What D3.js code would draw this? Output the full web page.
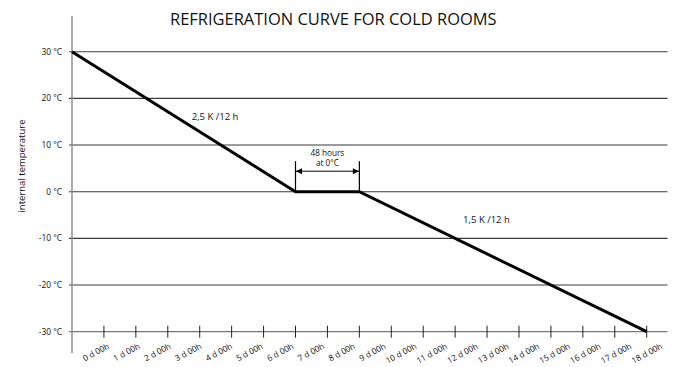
<!DOCTYPE html>
<html>
<head>
<meta charset="utf-8">
<script src="https://cdn.jsdelivr.net/npm/d3@7"></script>
<style>
  html, body { margin: 0; padding: 0; background: #fff; }
  svg { display: block; font-family: "Open Sans", "Noto Sans", sans-serif; }
</style>
</head>
<body>
<svg id="chart" width="675" height="367"></svg>
<script>
// Temperature levels shown as horizontal grid lines
const tempTicks = [30, 20, 10, 0, -10, -20, -30];
const tempLabels = ["30 °C", "20 °C", "10 °C", "0 °C", "-10 °C", "-20 °C", "-30 °C"];

// Time steps along the horizontal axis (one tick per step)
const timeSteps = [0, 1, 2, 3, 4, 5, 6, 7, 8, 9, 10, 11, 12, 13, 14, 15, 16, 17, 18];
const timeLabels = ["0 d 00h", "1 d 00h", "2 d 00h", "3 d 00h", "4 d 00h", "5 d 00h", "6 d 00h",
  "7 d 00h", "8 d 00h", "9 d 00h", "10 d 00h", "11 d 00h", "12 d 00h", "13 d 00h", "14 d 00h",
  "15 d 00h", "16 d 00h", "17 d 00h", "18 d 00h"];

// Cooling curve: cool down, hold at 0 °C, cool down again
const curveStep = [0, 7, 9, 18];
const curveTemp = [30, 0, 0, -30];

// Hold phase annotation
const holdStart = 7, holdEnd = 9, holdTemp = 0;
const holdText = ["48 hours", "at 0°C"];

// Rate labels along the two slopes
const rateLabels = ["2,5 K /12 h", "1,5 K /12 h"];
const rateStep = [3.75, 12.25];
const rateTemp = [15.3, -6.7];

const svg = d3.select("#chart");

const x = d3.scaleLinear().domain([0, 18]).range([72, 646.7]);
const y = d3.scaleLinear().domain([-30, 30]).range([331.7, 51.7]);
const labelPos = d3.scalePoint().domain(timeLabels).range([110, 663]);

// Title
const title = svg.append("text")
  .attr("x", 170).attr("y", 25)
  .attr("font-size", 16).attr("fill", "#111")
  .text("REFRIGERATION CURVE FOR COLD ROOMS");
const tw = title.node().getComputedTextLength();
title.attr("font-size", 16 * 327 / tw);

// Horizontal grid lines
svg.append("g").selectAll("line")
  .data(tempTicks.filter(t => t !== -30))
  .join("line")
  .attr("x1", 69).attr("x2", 667.5)
  .attr("y1", d => y(d)).attr("y2", d => y(d))
  .attr("stroke", "#3a3a3a").attr("stroke-width", 1.1);

// Temperature labels
svg.append("g").selectAll("text")
  .data(tempTicks)
  .join("text")
  .attr("x", 62).attr("y", d => y(d) + 3)
  .attr("text-anchor", "end")
  .attr("font-size", 8.4).attr("fill", "#111")
  .text((d, i) => tempLabels[i]);

// Y axis title
svg.append("text")
  .attr("transform", "translate(25,166) rotate(-90)")
  .attr("text-anchor", "middle")
  .attr("font-size", 9.5).attr("fill", "#111")
  .text("internal temperature");

// Bottom axis line
svg.append("line")
  .attr("x1", 69).attr("x2", 667.5)
  .attr("y1", y(-30)).attr("y2", y(-30))
  .attr("stroke", "#777").attr("stroke-width", 1.3);

// Tick marks on the time axis
svg.append("g").selectAll("line")
  .data(timeSteps.filter(d => d > 0))
  .join("line")
  .attr("x1", d => x(d)).attr("x2", d => x(d))
  .attr("y1", y(-30) - 6).attr("y2", y(-30) + 6)
  .attr("stroke", "#222").attr("stroke-width", 1);

// Left axis line
svg.append("line")
  .attr("x1", x(0)).attr("x2", x(0))
  .attr("y1", 16).attr("y2", 353)
  .attr("stroke", "#888").attr("stroke-width", 1.4);

// Time labels, slanted
svg.append("g").selectAll("text")
  .data(timeLabels)
  .join("text")
  .attr("transform", d => `translate(${labelPos(d)},348) rotate(-28)`)
  .attr("text-anchor", "end")
  .attr("font-size", 8.3).attr("fill", "#111")
  .text(d => d);

// Cooling curve
const curve = curveStep.map((s, i) => [s, curveTemp[i]]);
svg.append("path")
  .datum(curve)
  .attr("d", d3.line().x(d => x(d[0])).y(d => y(d[1])))
  .attr("fill", "none")
  .attr("stroke", "#000").attr("stroke-width", 3)
  .attr("stroke-linejoin", "miter");

// Hold phase bracket
const defs = svg.append("defs");
["start", "end"].forEach(k => {
  defs.append("marker")
    .attr("id", "arrow-" + k)
    .attr("viewBox", "0 0 10 10")
    .attr("refX", 10).attr("refY", 5)
    .attr("markerWidth", 7).attr("markerHeight", 6)
    .attr("markerUnits", "userSpaceOnUse")
    .attr("orient", k === "end" ? "auto" : "auto-start-reverse")
    .append("path").attr("d", "M0,0 L10,5 L0,10 z").attr("fill", "#000");
});

const bracket = svg.append("g");
[holdStart, holdEnd].forEach(s => {
  bracket.append("line")
    .attr("x1", x(s)).attr("x2", x(s))
    .attr("y1", y(holdTemp) - 30.5).attr("y2", y(holdTemp))
    .attr("stroke", "#000").attr("stroke-width", 1.2);
});
bracket.append("line")
  .attr("x1", x(holdStart) + 0.5).attr("x2", x(holdEnd) - 0.5)
  .attr("y1", y(holdTemp) - 20.5).attr("y2", y(holdTemp) - 20.5)
  .attr("stroke", "#000").attr("stroke-width", 1)
  .attr("marker-start", "url(#arrow-start)")
  .attr("marker-end", "url(#arrow-end)");
holdText.forEach((t, i) => {
  bracket.append("text")
    .attr("x", (x(holdStart) + x(holdEnd)) / 2)
    .attr("y", y(holdTemp) - 36 + i * 10.5)
    .attr("text-anchor", "middle")
    .attr("font-size", 8.2).attr("fill", "#111")
    .text(t);
});

// Rate labels
svg.append("g").selectAll("text")
  .data(rateLabels)
  .join("text")
  .attr("x", (d, i) => x(rateStep[i]))
  .attr("y", (d, i) => y(rateTemp[i]))
  .attr("font-size", 9.5).attr("fill", "#111")
  .text(d => d);
</script>
</body>
</html>
